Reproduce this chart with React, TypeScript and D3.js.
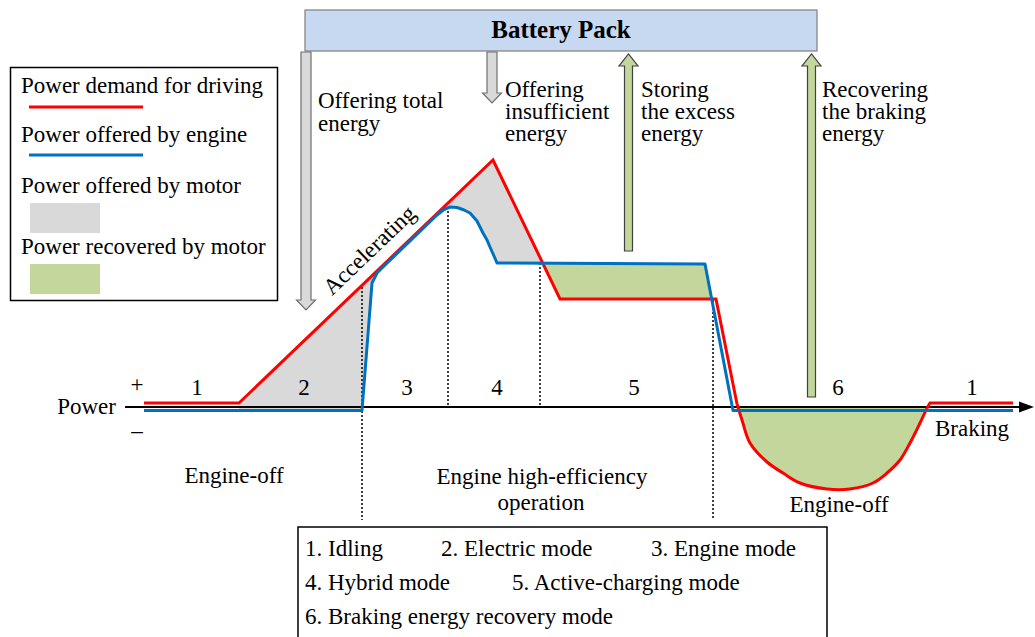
import React from 'react';
import * as d3 from 'd3';

type Pt = [number, number];

// t = time (arbitrary units), p = power (arbitrary units)
const demandPoints: Pt[] = [[0, 0.4], [9.5, 0.4], [34.9, 24.7], [41.6, 10.8], [57.2, 10.8], [59.3, 0.3]];
const brakingPoints: Pt[] = [
  [59.3, 0.3], [59.8, -1.3], [60.6, -3.6], [62.3, -5.5], [63.9, -6.6], [65.6, -7.6], [68.3, -8.2],
  [70.6, -8.2], [72.9, -7.6], [74.3, -6.6], [75.6, -5.3], [76.6, -3.6], [77.6, -1.6], [78.3, -0.1],
];
const idleEndPoints: Pt[] = [[78.3, -0.1], [78.6, 0.4], [86.9, 0.4]];
const enginePoints: Pt[] = [
  [0, -0.35], [21.8, -0.35], [22.8, 12.4], [23.3, 13.4], [23.9, 14.0], [29.3, 19.2], [30.0, 19.75],
  [30.6, 20.0], [31.3, 19.95], [32.0, 19.7], [32.6, 19.4], [33.3, 18.6], [33.9, 17.4], [34.3, 16.7],
  [34.6, 16.0], [35.0, 15.1], [35.3, 14.4], [56.1, 14.3], [58.9, -0.35], [86.9, -0.35],
];
// where the demand line crosses the engine line
const crossA: Pt = [39.8, 14.3];
const crossB: Pt = [56.8, 10.8];

// mode boundaries (dotted lines): t, top p, bottom p
const boundaries: [number, number, number][] = [[21.8, 12, -11.3], [30.4, 20, 0], [39.6, 14.4, 0], [56.9, 10.7, -11.3]];
const modeLabels: [string, number][] = [['1', 5.3], ['2', 16], ['3', 26.3], ['4', 35.3], ['5', 49], ['6', 69.4], ['1', 82.8]];

const legendItems = ['Power demand for driving', 'Power offered by engine', 'Power offered by motor', 'Power recovered by motor'];
const modeNames = [
  ['1. Idling', '2. Electric mode', '3. Engine mode'],
  ['4. Hybrid mode', '5. Active-charging mode'],
  ['6. Braking energy recovery mode'],
];

const RED = '#ff0000';
const BLUE = '#0070c0';
const GREY = '#d9d9d9';
const GREEN = '#c3d69b';
const FONT = '"Liberation Serif", "Times New Roman", serif';

const W = 1035;
const H = 637;

const x = d3.scaleLinear().domain([0, 100]).range([144, 1144]);
const y = d3.scaleLinear().domain([0, 10]).range([407, 307]);

const line = d3.line<Pt>().x(d => x(d[0])).y(d => y(d[1]));
const smoothLine = d3.line<Pt>().x(d => x(d[0])).y(d => y(d[1])).curve(d3.curveCatmullRom);
const dipArea = d3.area<Pt>().x(d => x(d[0])).y0(y(0)).y1(d => y(d[1])).curve(d3.curveCatmullRom);

const inRange = (pts: Pt[], a: number, b: number) => pts.filter(d => d[0] > a && d[0] < b);

const motorArea: Pt[] = [
  [9.5, 0.4],
  ...inRange(demandPoints, 9.5, crossA[0]),
  crossA,
  ...inRange(enginePoints, 21.7, crossA[0]).reverse(),
  [9.5, -0.35],
];
const chargeArea: Pt[] = [
  crossA,
  ...inRange(enginePoints, crossA[0], crossB[0]),
  crossB,
  ...inRange(demandPoints, crossA[0], crossB[0]).reverse(),
];

// block arrow, tip at yTip
const arrow = (cx: number, yTail: number, yTip: number, shaft = 9, head = 19, headLen = 10) => {
  const dir = yTip > yTail ? 1 : -1;
  const yBase = yTip - dir * headLen;
  const s = shaft / 2, h = head / 2;
  return `M${cx - s},${yTail}L${cx + s},${yTail}L${cx + s},${yBase}L${cx + h},${yBase}L${cx},${yTip}L${cx - h},${yBase}L${cx - s},${yBase}Z`;
};

const T = (props: any) => <text fontFamily={FONT} fontSize={23} fill="#000" {...props} />;

export default function App() {
  const rotAngle = -43.7;
  return (
    <svg width={W} height={H} style={{ position: 'absolute', left: 0, top: 0, background: '#fff' }}>
      {/* battery pack */}
      <rect x={305} y={10} width={512} height={41} fill="#c6d9f0" stroke="#7f7f7f" strokeWidth={1.2} />
      <T x={561} y={38} textAnchor="middle" fontWeight="bold" fontSize={25}>Battery Pack</T>

      {/* energy flow arrows */}
      <path d={arrow(x(16.2), 52, 310, 10)} fill={GREY} stroke="#6f6f6f" strokeWidth={1.2} />
      <path d={arrow(x(34.8), 52, 103, 10)} fill={GREY} stroke="#6f6f6f" strokeWidth={1.2} />
      <path d={arrow(x(48.45), 251, 54, 8, 19, 12)} fill={GREEN} stroke="#404040" strokeWidth={1.2} />
      <path d={arrow(x(66.75), 397, 54, 8, 19, 12)} fill={GREEN} stroke="#404040" strokeWidth={1.2} />

      <T x={318} y={108}>Offering total</T>
      <T x={318} y={131}>energy</T>
      <T x={505} y={97}>Offering</T>
      <T x={505} y={119}>insufficient</T>
      <T x={505} y={141}>energy</T>
      <T x={641} y={97}>Storing</T>
      <T x={641} y={119}>the excess</T>
      <T x={641} y={141}>energy</T>
      <T x={822} y={97}>Recovering</T>
      <T x={822} y={119}>the braking</T>
      <T x={822} y={141}>energy</T>

      {/* legend */}
      <rect x={10.5} y={67.5} width={267} height={233} fill="#fff" stroke="#000" strokeWidth={1.5} />
      <T x={21} y={93}>{legendItems[0]}</T>
      <line x1={29} x2={143} y1={107} y2={107} stroke={RED} strokeWidth={3} />
      <T x={21} y={142}>{legendItems[1]}</T>
      <line x1={29} x2={143} y1={155} y2={155} stroke={BLUE} strokeWidth={3} />
      <T x={21} y={193}>{legendItems[2]}</T>
      <rect x={30} y={203} width={70} height={30} fill={GREY} />
      <T x={21} y={254}>{legendItems[3]}</T>
      <rect x={30} y={264} width={70} height={30} fill={GREEN} />

      {/* filled areas */}
      <path d={line(motorArea) + 'Z'} fill={GREY} />
      <path d={line(chargeArea) + 'Z'} fill={GREEN} />
      <path d={dipArea(brakingPoints) ?? ''} fill={GREEN} />

      {/* mode boundaries */}
      {boundaries.map(([t, p0, p1], i) => (
        <line key={i} x1={x(t)} x2={x(t)} y1={y(p0)} y2={y(p1)} stroke="#000" strokeWidth={1.5} strokeDasharray="2,2" />
      ))}

      {/* axis */}
      <line x1={125} x2={1022} y1={y(0)} y2={y(0)} stroke="#000" strokeWidth={2} />
      <path d={`M1034,${y(0)}L1019,${y(0) - 5.5}L1019,${y(0) + 5.5}Z`} fill="#000" />
      <T x={116} y={414} textAnchor="end">Power</T>
      <T x={137} y={392} textAnchor="middle">+</T>
      <T x={137} y={438} textAnchor="middle">–</T>

      {modeLabels.map(([s, t], i) => (
        <T key={i} x={x(t)} y={395} textAnchor="middle">{s}</T>
      ))}

      {/* power demand and engine lines */}
      <path d={line(demandPoints) ?? ''} fill="none" stroke={RED} strokeWidth={3} strokeLinejoin="miter" />
      <path d={smoothLine(brakingPoints) ?? ''} fill="none" stroke={RED} strokeWidth={3} />
      <path d={line(idleEndPoints) ?? ''} fill="none" stroke={RED} strokeWidth={3} />
      <path d={line(enginePoints) ?? ''} fill="none" stroke={BLUE} strokeWidth={3} strokeLinejoin="round" />

      <T x={374.5} y={255.6} textAnchor="middle" transform={`rotate(${rotAngle},374.5,255.6)`}>Accelerating</T>

      <T x={234} y={483} textAnchor="middle">Engine-off</T>
      <T x={542} y={484} textAnchor="middle">Engine high-efficiency</T>
      <T x={541} y={510} textAnchor="middle">operation</T>
      <T x={839} y={512} textAnchor="middle">Engine-off</T>
      <T x={972} y={436} textAnchor="middle">Braking</T>

      {/* mode key */}
      <rect x={298} y={527} width={529} height={130} fill="#fff" stroke="#000" strokeWidth={1.5} />
      <T x={305} y={556}>{modeNames[0][0]}</T>
      <T x={441} y={556}>{modeNames[0][1]}</T>
      <T x={651} y={556}>{modeNames[0][2]}</T>
      <T x={305} y={590}>{modeNames[1][0]}</T>
      <T x={512} y={590}>{modeNames[1][1]}</T>
      <T x={305} y={624}>{modeNames[2][0]}</T>
    </svg>
  );
}
